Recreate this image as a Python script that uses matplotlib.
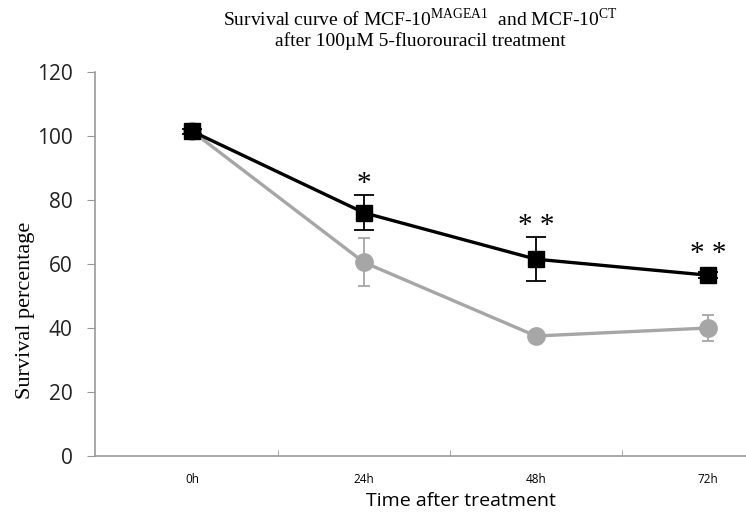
import numpy as np
import matplotlib.pyplot as plt

plt.rcParams['mathtext.fontset'] = 'custom'
plt.rcParams['mathtext.rm'] = 'Liberation Serif'

time_labels = ['0h', '24h', '48h', '72h']
magea1_vals = [101.5, 76, 61.5, 56.5]
magea1_err = [0.8, 5.5, 6.8, 1.0]
ct_vals = [101.5, 60.5, 37.5, 40]
ct_err = [0.5, 7.5, 0.5, 4.0]
stars = ['', '*', '* *', '* *']
yticks = [0, 20, 40, 60, 80, 100, 120]

fig = plt.figure(figsize=(7.46, 5.17), dpi=100)
# axes runs past the right edge, as in the cropped original
ax = fig.add_axes([95 / 746, 61 / 517, 699 / 746, 384 / 517])

x = np.arange(len(time_labels))
grey = '#a6a6a6'

ax.errorbar(x, ct_vals, yerr=ct_err, color=grey, lw=2.4, marker='o', ms=12.5,
            mec=grey, mfc=grey, ecolor=grey, elinewidth=1.3, capsize=4, capthick=1.3, zorder=2)
ax.errorbar(x, magea1_vals, yerr=magea1_err, color='black', lw=2.4, marker='s', ms=11,
            mec='black', mfc='black', ecolor='black', elinewidth=1.3, capsize=7, capthick=1.3, zorder=3)

for xi, (s, v, e) in enumerate(zip(stars, magea1_vals, magea1_err)):
    if s:
        ax.text(xi, v + max(e, 3) + 3.5, s, ha='center', va='center', fontsize=21,
                family='Liberation Serif')

ax.set_xlim(-0.564, 3.5)
ax.set_ylim(0, 120)
ax.set_yticks(yticks)
ax.set_yticklabels([str(t) for t in yticks], fontsize=15, family='Open Sans', color='#222222')
ax.set_xticks(x)
ax.set_xticklabels(time_labels, fontsize=8.5, family='Open Sans')
ax.set_xticks(np.arange(0.5, 3.0, 1), minor=True)
ax.tick_params(axis='x', which='major', length=0, pad=12)
ax.tick_params(axis='x', which='minor', length=4, color='#999999', direction='in')
ax.tick_params(axis='y', length=6, color='#999999', direction='out', pad=10)

for side in ['top', 'right']:
    ax.spines[side].set_visible(False)
for side in ['left', 'bottom']:
    ax.spines[side].set_color('#999999')
    ax.spines[side].set_linewidth(1.2)

ax.set_ylabel('Survival percentage', fontsize=16, family='Liberation Serif')
ax.yaxis.set_label_coords(-0.086, 0.38)
ax.set_xlabel('Time after treatment', fontsize=14, family='Open Sans')
ax.xaxis.set_label_coords(0.524, -0.093)

fig.text(0.563, 0.985,
         r'Survival curve of MCF-10$^{\mathrm{MAGEA1}}$  and MCF-10$^{\mathrm{CT}}$' + '\n'
         + 'after 100\u00b5M 5-fluorouracil treatment',
         ha='center', va='top', fontsize=14, family='Liberation Serif', linespacing=1.15)

fig.savefig('out.png', dpi=100)
